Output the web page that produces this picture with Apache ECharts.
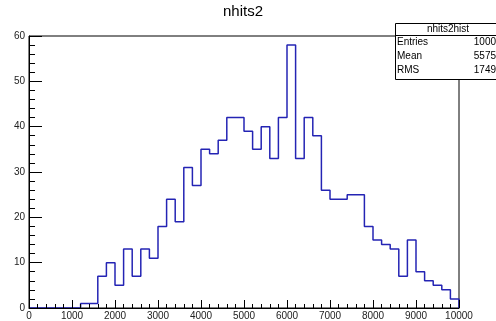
<!DOCTYPE html>
<html>
<head>
<meta charset="utf-8">
<script src="https://cdn.jsdelivr.net/npm/echarts@6/dist/echarts.min.js"></script>
<style>
  html, body { margin: 0; padding: 0; background: #fff; }
  #chart { width: 496px; height: 321px; }
</style>
</head>
<body>
<div id="chart"></div>
<script>
// Histogram nhits2: 50 bins of width 200 from 0 to 10000
const binLow = 0;
const binWidth = 200;
const counts = [
  0, 0, 0, 0, 0, 0, 1, 1, 7, 10,
  5, 13, 7, 13, 11, 18, 24, 19, 31, 27,
  35, 34, 37, 42, 42, 39, 35, 40, 33, 42,
  58, 33, 42, 38, 26, 24, 24, 25, 25, 18,
  15, 14, 13, 7, 15, 8, 6, 5, 4, 2
];
const xTicks = [0, 1000, 2000, 3000, 4000, 5000, 6000, 7000, 8000, 9000, 10000];
const yTicks = [0, 10, 20, 30, 40, 50, 60];
const statNames = ['Entries', 'Mean', 'RMS'];
const statValues = ['1000', '5575', '1749'];
const histName = 'nhits2hist';
const titleText = 'nhits2';

// step outline: one point per bin left edge, plus the closing right edge
const stepData = counts.map((c, i) => [binLow + i * binWidth, c]);
stepData.push([binLow + counts.length * binWidth, counts[counts.length - 1]]);
stepData.push([binLow + counts.length * binWidth, 0]);

const font = '"Liberation Sans", Arial, sans-serif';
const chart = echarts.init(document.getElementById('chart'), null, { renderer: 'canvas' });

const statRows = statNames.map((n, i) => ([
  { type: 'text', x: 397, y: 37 + i * 14, z: 20,
    style: { text: n, font: '10px ' + font, fill: '#000' } },
  { type: 'text', x: 496, y: 37 + i * 14, z: 20,
    style: { text: statValues[i], font: '10px ' + font, fill: '#000', textAlign: 'right' } }
])).flat();

chart.setOption({
  animation: false,
  grid: {
    left: 29, right: 37, top: 36, bottom: 13,
    show: true, borderColor: '#000', borderWidth: 1, backgroundColor: 'transparent'
  },
  xAxis: {
    type: 'value', min: xTicks[0], max: xTicks[xTicks.length - 1], interval: 1000, z: 5,
    axisLine: { show: true, onZero: false, lineStyle: { color: '#000', width: 1 } },
    axisTick: { show: true, inside: true, length: 8, lineStyle: { color: '#000' } },
    minorTick: { show: true, splitNumber: 5, length: 4, lineStyle: { color: '#000' } },
    splitLine: { show: false },
    axisLabel: { color: '#222', fontSize: 10, fontFamily: font, margin: 3,
      formatter: v => xTicks.includes(v) ? String(v) : '' }
  },
  yAxis: {
    type: 'value', min: yTicks[0], max: yTicks[yTicks.length - 1], interval: 10, z: 5,
    axisLine: { show: true, lineStyle: { color: '#000', width: 1 } },
    axisTick: { show: true, inside: true, length: 13, lineStyle: { color: '#000' } },
    minorTick: { show: true, splitNumber: 5, length: 6, lineStyle: { color: '#000' } },
    splitLine: { show: false },
    axisLabel: { color: '#222', fontSize: 10, fontFamily: font, margin: 4,
      formatter: v => yTicks.includes(v) ? String(v) : '' }
  },
  series: [{
    type: 'line', step: 'end', data: stepData, symbol: 'none', z: 2,
    lineStyle: { color: '#2424b4', width: 1.5 }
  }],
  graphic: [
    { type: 'text', x: 243, y: 4, z: 20,
      style: { text: titleText, font: '15px ' + font, fill: '#000', textAlign: 'center' } },
    { type: 'rect', shape: { x: 395.5, y: 23.5, width: 110, height: 56 }, z: 19,
      style: { fill: '#fff', stroke: '#000', lineWidth: 1 } },
    { type: 'line', shape: { x1: 395.5, y1: 35.5, x2: 496, y2: 35.5 }, z: 19,
      style: { stroke: '#000', lineWidth: 1 } },
    { type: 'text', x: 448, y: 24, z: 20,
      style: { text: histName, font: '10px ' + font, fill: '#000', textAlign: 'center' } },
    ...statRows
  ]
});
</script>
</body>
</html>
